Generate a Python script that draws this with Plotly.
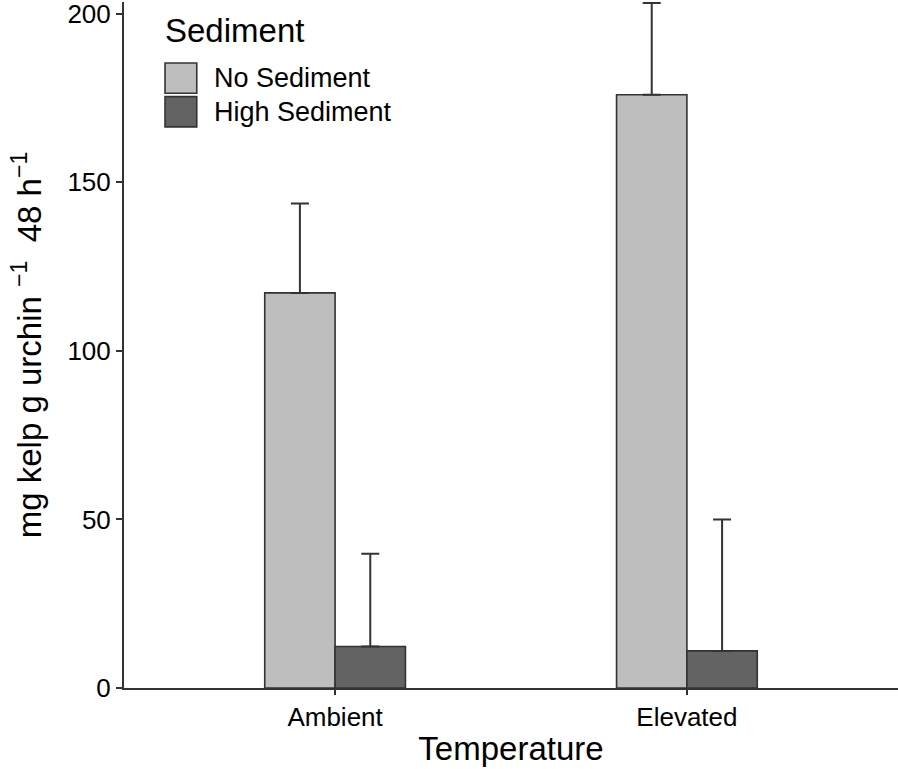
import plotly.graph_objects as go

categories = ["Ambient", "Elevated"]
series_names = ["No Sediment", "High Sediment"]
no_sed_mean = [117.2, 176.0]
no_sed_se = [26.5, 27.2]
high_sed_mean = [12.3, 11.0]
high_sed_se = [27.5, 39.0]
y_ticks = [0, 50, 100, 150, 200]

colors = ["#bebebe", "#636363"]
edge = "#333333"
font_family = "Liberation Sans, Arial, sans-serif"

fig = go.Figure()
for name, means, ses, col in [
    (series_names[0], no_sed_mean, no_sed_se, colors[0]),
    (series_names[1], high_sed_mean, high_sed_se, colors[1]),
]:
    fig.add_trace(go.Bar(
        x=categories, y=means, name=name,
        marker=dict(color=col, line=dict(color=edge, width=1.6)),
        error_y=dict(type="data", array=ses, arrayminus=[0] * len(ses),
                     symmetric=False, color=edge, thickness=2, width=9),
        showlegend=False,
    ))

# custom legend (large keys like the reference)
fig.add_annotation(x=0.05, y=0.958, xref="paper", yref="paper", text="Sediment",
                   showarrow=False, xanchor="left", yanchor="middle",
                   font=dict(size=33, color="black", family=font_family))
key_y = [0.889, 0.840]
for i, (name, col) in enumerate(zip(series_names, colors)):
    fig.add_shape(type="rect", xref="paper", yref="paper",
                  x0=0.053, x1=0.094, y0=key_y[i] - 0.022, y1=key_y[i] + 0.022,
                  fillcolor=col, line=dict(color=edge, width=1.6))
    fig.add_annotation(x=0.114, y=key_y[i], xref="paper", yref="paper", text=name,
                       showarrow=False, xanchor="left", yanchor="middle",
                       font=dict(size=27, color="black", family=font_family))

fig.update_layout(
    width=898, height=769,
    margin=dict(l=124, r=0, t=2, b=81),
    plot_bgcolor="white", paper_bgcolor="white",
    barmode="group", bargap=0.6, bargroupgap=0,
    font=dict(family=font_family, color="black"),
    xaxis=dict(
        range=[-0.6, 1.6], showline=True, linecolor=edge, linewidth=2,
        ticks="outside", ticklen=5, tickcolor=edge, tickwidth=1.5,
        tickfont=dict(size=26, color="black"),
        title=dict(text="Temperature", font=dict(size=33, color="black"), standoff=6),
        showgrid=False, zeroline=False,
    ),
    yaxis=dict(
        range=[0, 203.5], showline=True, linecolor=edge, linewidth=2,
        ticks="outside", ticklen=6, tickcolor=edge, tickwidth=1.5,
        tickvals=y_ticks, tickfont=dict(size=26, color="black"),
        ticklabeloverflow="allow",
        title=dict(text="mg kelp g urchin <sup>\u22121</sup>  48 h<sup>\u22121</sup>",
                   font=dict(size=33, color="black"), standoff=16),
        showgrid=False, zeroline=False,
    ),
)

fig.write_html("out.html", config={"displayModeBar": False},
               post_script="document.body.style.margin='0';")
